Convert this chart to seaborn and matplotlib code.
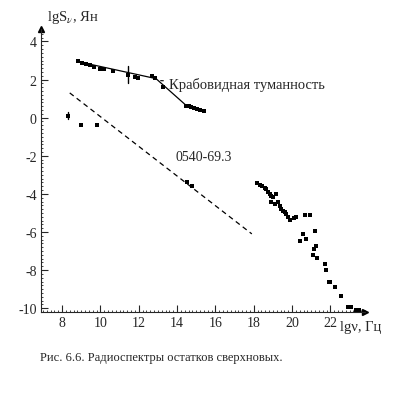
import numpy as np
import pandas as pd
import matplotlib
matplotlib.use("Agg")
import matplotlib.pyplot as plt
from matplotlib.ticker import MultipleLocator
import seaborn as sns

# Crab nebula spectrum points (lg nu, lg S)
crab_x = [8.83, 9.04, 9.25, 9.46, 9.67, 9.98, 10.19, 10.66, 11.44, 11.80, 11.96,
          12.70, 12.84, 13.26, 14.46, 14.6, 14.75, 14.9, 15.05, 15.2, 15.4]
crab_y = [2.95, 2.89, 2.84, 2.74, 2.68, 2.58, 2.58, 2.47, 2.26, 2.16, 2.10,
          2.20, 2.10, 1.63, 0.62, 0.60, 0.55, 0.50, 0.45, 0.40, 0.35]
# broken power-law fit for the Crab
crab_fit_x = [8.8, 12.9, 14.5, 15.4]
crab_fit_y = [2.95, 2.05, 0.62, 0.33]
# error bar on the Crab data
crab_err_x = 11.44
crab_err_lo, crab_err_hi = 1.80, 2.70

# 0540-69.3 radio/optical points
psr_x = [8.3, 9.0, 9.82, 14.5, 14.8]
psr_y = [0.10, -0.37, -0.37, -3.37, -3.60]
psr_fit_x = [8.4, 17.9]
psr_fit_y = [1.3, -6.1]

# high-energy (X / gamma) points
hi_x = [18.17, 18.31, 18.45, 18.57, 18.66, 18.74, 18.83, 18.92, 19.00, 19.18,
        18.92, 19.10, 19.27, 19.35, 19.44, 19.53, 19.61, 19.70, 19.78, 19.87,
        20.10, 20.22, 20.66, 20.95, 21.18, 20.57, 20.74, 20.40, 21.27, 21.14,
        21.09, 21.30, 21.71, 21.75, 21.92, 22.00, 22.24, 22.57, 22.90, 23.09,
        23.35, 23.50]
hi_y = [-3.44, -3.53, -3.60, -3.70, -3.77, -3.88, -4.00, -4.09, -4.17, -4.00,
        -4.44, -4.53, -4.44, -4.61, -4.79, -4.91, -4.96, -5.05, -5.23, -5.35,
        -5.26, -5.19, -5.10, -5.10, -5.93, -6.10, -6.37, -6.49, -6.72, -6.90,
        -7.20, -7.38, -7.68, -7.98, -8.65, -8.60, -8.91, -9.35, -9.93, -9.93,
        -10.1, -10.1]

crab = pd.DataFrame({"x": crab_x, "y": crab_y})
psr = pd.DataFrame({"x": psr_x, "y": psr_y})
hi = pd.DataFrame({"x": hi_x, "y": hi_y})

sns.set_style("ticks")
plt.rcParams["font.family"] = ["Liberation Serif", "DejaVu Serif"]
plt.rcParams["mathtext.fontset"] = "stix"
plt.rcParams["axes.unicode_minus"] = False

fig = plt.figure(figsize=(3.96, 4.10), dpi=100)
ax = fig.add_axes([0.1035, 0.2366, 0.818, 0.69])

sns.scatterplot(data=crab, x="x", y="y", ax=ax, color="black", s=7,
                marker="s", linewidth=0)
sns.lineplot(x=crab_fit_x, y=crab_fit_y, ax=ax, color="black", lw=0.9)
ax.plot([crab_err_x, crab_err_x], [crab_err_lo, crab_err_hi], color="black", lw=1)

sns.scatterplot(data=psr, x="x", y="y", ax=ax, color="black", s=5,
                marker="s", linewidth=0)
ax.plot([8.3, 8.3], [-0.05, 0.3], color="black", lw=1)
ax.plot(psr_fit_x, psr_fit_y, color="black", lw=0.9, ls=(0, (4, 3)))

sns.scatterplot(data=hi, x="x", y="y", ax=ax, color="black", s=5,
                marker="s", linewidth=0)

ax.annotate("Крабовидная туманность", xy=(13.0, 1.95), xytext=(13.6, 1.75),
            fontsize=10.5, va="center",
            arrowprops=dict(arrowstyle="-", color="black", lw=0.8))
ax.text(13.9, -2.05, "0540-69.3", fontsize=10, va="center")

ax.set_xlim(6.9, 23.8)
ax.set_ylim(-10.2, 4.65)
ax.xaxis.set_major_locator(MultipleLocator(2))
ax.yaxis.set_major_locator(MultipleLocator(2))
ax.xaxis.set_minor_locator(MultipleLocator(0.2))
ax.yaxis.set_minor_locator(MultipleLocator(0.2))
ax.tick_params(which="major", direction="in", length=5, width=0.8, labelsize=10, pad=3)
ax.tick_params(which="minor", direction="in", length=1.5, width=0.6)
ax.set_xticks(np.arange(8, 23, 2))
ax.set_yticks(np.arange(-10, 5, 2))
for s in ["top", "right"]:
    ax.spines[s].set_visible(False)
for s in ["left", "bottom"]:
    ax.spines[s].set_linewidth(0.8)
ax.set_xlabel("")
ax.set_ylabel("")

# axis arrows
ax.plot(1, 0, ">k", ms=5, transform=ax.transAxes, clip_on=False)
ax.plot(0, 1, "^k", ms=5, transform=ax.transAxes, clip_on=False)

fig.text(47 / 396, 1 - 18 / 410, "lgS$_{\\nu}$, Ян", fontsize=10.5, va="center")
fig.text(340 / 396, 1 - 327 / 410, "lgν, Гц", fontsize=10.5, va="center")
fig.text(40 / 396, 1 - 358 / 410, "Рис. 6.6. Радиоспектры остатков сверхновых.",
         fontsize=9, va="center")

fig.savefig("out.png", dpi=100)
